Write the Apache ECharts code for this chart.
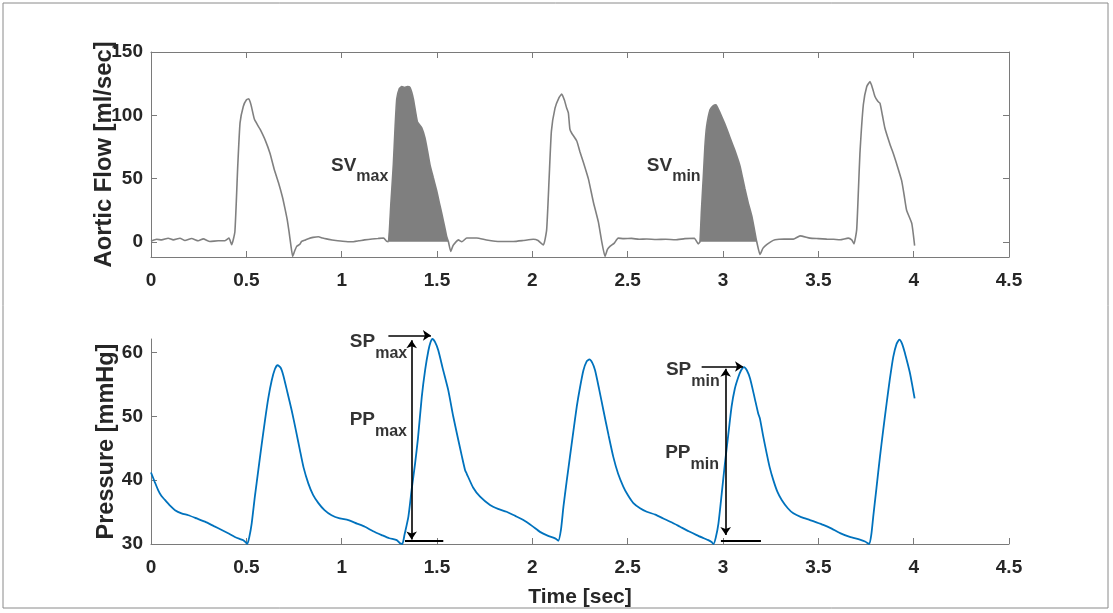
<!DOCTYPE html>
<html><head><meta charset="utf-8">
<script src="https://cdn.jsdelivr.net/npm/echarts@6/dist/echarts.min.js"></script>
<style>html,body{margin:0;padding:0;background:#fff}#c{width:1113px;height:613px}</style>
</head><body><div id="c"></div><script>
// ---------- data ----------
const flowT = [0.00,0.03,0.056,0.09,0.117,0.152,0.178,0.213,0.248,0.274,0.309,0.353,0.388,0.409,0.423,0.44,0.455,0.467,0.484,0.50,0.513,0.525,0.542,0.56,0.572,0.60,0.624,0.645,0.668,0.69,0.703,0.715,0.724,0.733,0.743,0.754,0.764,0.78,0.79,0.81,0.825,0.85,0.878,0.90,0.92,0.95,0.98,1.02,1.05,1.09,1.12,1.16,1.19,1.22,1.235,1.245,1.258,1.271,1.28,1.289,1.302,1.315,1.33,1.345,1.358,1.376,1.397,1.42,1.437,1.45,1.463,1.48,1.498,1.512,1.525,1.54,1.551,1.56,1.572,1.584,1.594,1.612,1.63,1.656,1.708,1.76,1.83,1.90,1.95,2.005,2.03,2.058,2.075,2.088,2.10,2.119,2.14,2.154,2.168,2.18,2.189,2.197,2.206,2.233,2.25,2.268,2.294,2.32,2.346,2.364,2.381,2.394,2.407,2.43,2.45,2.48,2.52,2.56,2.60,2.65,2.70,2.75,2.80,2.85,2.87,2.879,2.887,2.897,2.905,2.914,2.932,2.948,2.963,2.978,2.993,3.01,3.028,3.045,3.063,3.089,3.102,3.115,3.132,3.15,3.162,3.173,3.177,3.194,3.21,3.229,3.25,3.273,3.32,3.369,3.404,3.456,3.50,3.544,3.58,3.614,3.657,3.675,3.687,3.701,3.71,3.718,3.736,3.754,3.771,3.785,3.797,3.812,3.823,3.836,3.849,3.876,3.895,3.911,3.937,3.95,3.963,3.99,4.005];
const flowV = [0.5,2,1.5,2.8,1.5,2.8,1,2.6,0.8,2.3,0.3,0.8,0.8,2.9,-2.3,8,60,94,107,112,113,108,97,92,89,80,70,58,47,35,26,17,8,-2,-11.5,-7,-3.6,-2,0.3,1.5,2.5,3.5,4,3,2.3,1.5,0.8,0.3,0,0.8,1.5,2.2,2.6,3,0.5,0,30,61,90,113,121,122.6,122,122.6,122,113,95,90,82,72,61,51,40.6,31,22.4,12,4,0,-7.6,-3,-1,1.5,0,3,3,1.5,0.3,0.3,1,2,1,-2.5,9.4,50,87.5,105.7,114,116.7,112,105.7,101.8,89,86,79.7,71,62.7,49.7,31.5,15.9,0.2,-11.5,-6,-3.6,-1,2.9,2.5,2.7,2,2.2,1.8,2,1.6,2.5,2.8,-1.6,0,25,52,75,91,104.4,107.5,108.3,104,99,93,86,79,71.9,60,51,41.9,31,21,12,2.9,0,-10,-5,-2.3,0,1.6,2.2,2.1,4.7,2.9,2.5,2.1,2,1.6,2.9,1.5,-1.6,9.4,40,69.3,108.3,122.7,126.6,121,114.8,111,109.6,100,90,77,69,61.5,48.4,37,25,14.6,-3];
const pressT = [0.00,0.02,0.038,0.055,0.073,0.10,0.126,0.16,0.196,0.24,0.283,0.33,0.371,0.41,0.44,0.465,0.484,0.495,0.505,0.515,0.528,0.545,0.563,0.58,0.598,0.615,0.633,0.65,0.664,0.68,0.694,0.715,0.738,0.76,0.781,0.80,0.825,0.85,0.878,0.91,0.947,0.99,1.035,1.08,1.122,1.165,1.21,1.25,1.289,1.306,1.318,1.33,1.35,1.367,1.385,1.40,1.42,1.438,1.455,1.466,1.476,1.49,1.507,1.53,1.559,1.585,1.612,1.63,1.647,1.656,1.69,1.726,1.778,1.82,1.865,1.91,1.953,2.00,2.04,2.08,2.11,2.125,2.136,2.15,2.163,2.18,2.197,2.215,2.233,2.25,2.268,2.285,2.299,2.314,2.329,2.35,2.373,2.40,2.425,2.45,2.477,2.50,2.53,2.565,2.60,2.645,2.687,2.73,2.775,2.82,2.862,2.90,2.923,2.94,2.95,2.962,2.976,2.993,3.01,3.028,3.045,3.062,3.08,3.095,3.11,3.125,3.142,3.165,3.185,3.194,3.21,3.229,3.245,3.264,3.285,3.308,3.34,3.369,3.41,3.456,3.49,3.526,3.57,3.614,3.665,3.718,3.745,3.767,3.778,3.788,3.805,3.823,3.84,3.858,3.875,3.893,3.91,3.925,3.94,3.955,3.968,3.981,3.993,4.005];
const pressV = [41.2,39.7,38.4,37.5,36.9,36,35.3,34.8,34.5,34,33.5,32.8,32.2,31.6,31.1,30.8,30.6,30.3,30.0,31,33.2,37.5,41.6,45.5,49.4,52.8,55.6,57.4,58.0,57.6,56.4,53.8,50.9,47.8,44.7,42,39.5,37.7,36.4,35.3,34.5,34,33.75,33.2,32.7,32,31.4,30.9,30.6,30.1,30.0,31.5,34.3,38.5,42.6,46.5,53,57.3,60.3,61.6,62.1,61.6,60.3,57.5,54.1,50,46.25,43.8,41.6,41,38.8,37.4,36.1,35.5,35.05,34.4,33.75,32.8,31.9,31.3,31.0,30.8,30.5,32.2,35.8,39.8,43.6,47.6,51.5,54.5,57.2,58.6,58.9,58.4,57.2,54.3,50.9,47,43.6,41,39,37.7,36.4,35.6,35.05,34.6,34,33.4,32.7,32,31.4,30.9,30.6,30.3,30.0,31,33.2,37.8,42.6,47.2,51.5,54.3,56.1,57.2,57.7,57.2,55.9,53,50.4,49.6,47,44.2,42,40,38.2,36.9,35.6,34.8,34.2,33.75,33.4,33,32.4,31.7,31.1,30.7,30.4,30.0,31.5,34.3,38.8,43.6,47.8,52,55.8,59.3,61.3,62.0,61.3,59.8,58.3,56.7,54.8,52.8];
const xTickValues = [0,0.5,1,1.5,2,2.5,3,3.5,4,4.5];
const flowTickValues = [0,50,100,150];
const pressTickValues = [30,40,50,60];
const svWindows = [[1.245,1.56],[2.879,3.177]];
// annotation texts: [main, subscript, t, value]
const flowNotes = [['SV','max',1.25,60],['SV','min',2.888,60]];
const pressNotes = [['SP','max',1.349,61.6],['PP','max',1.348,49.4],['SP','min',2.988,57.2],['PP','min',2.984,44.2]];
// arrows: [t1,v1,t2,v2]
const spArrows = [[1.245,62.66,1.468,62.66],[2.888,57.8,3.105,57.8]];
const ppArrows = [[1.367,61.9,1.367,30.7],[3.014,57.45,3.014,31.4]];
const dpLines = [[1.332,30.47,1.533,30.47],[2.989,30.5,3.199,30.5]];

// ---------- chart ----------
const FONT = "'Liberation Sans', Arial, sans-serif";
const AX = '#7a7a7a';
const TXT = '#262626';
const zip = (a,b) => a.map((v,i)=>[v,b[i]]);
const flowData = zip(flowT, flowV);
const pressData = zip(pressT, pressV);
const fills = svWindows.map(w => flowData.filter(p => p[0] >= w[0]-1e-9 && p[0] <= w[1]+1e-9));

const tickLbl = {fontSize:19, fontWeight:'bold', color:TXT, fontFamily:FONT};
function xAx(grid, pos, labels){
  return {type:'value', gridIndex:grid, position:pos, min:0, max:4.5, interval:0.5,
    axisLine:{show:true, onZero:false, lineStyle:{color:AX, width:1}},
    axisTick:{show:true, inside:true, length:6, lineStyle:{color:AX}},
    axisLabel: labels ? Object.assign({show:true, margin:14}, tickLbl) : {show:false},
    splitLine:{show:false}};
}
function yAx(grid, pos, labels, min, max, ticks, name, nameSize, gap){
  return {type:'value', gridIndex:grid, position:pos, min:min, max:max,
    name: name || '', nameLocation:'middle', nameGap:gap||0, nameMoveOverlap:false,
    nameTextStyle:{fontSize:nameSize||20, fontWeight:'bold', color:TXT, fontFamily:FONT},
    axisLine:{show:true, onZero:false, lineStyle:{color:AX, width:1}},
    axisTick:{show:true, inside:true, length:6, lineStyle:{color:AX}, customValues:ticks},
    axisLabel: labels ? Object.assign({show:true, margin:8, customValues:ticks}, tickLbl) : {show:false, customValues:ticks},
    splitLine:{show:false}};
}
const rich = {
  a:{fontSize:19, fontWeight:'bold', color:'#000', fontFamily:FONT, lineHeight:20, verticalAlign:'top'},
  b:{fontSize:16, fontWeight:'bold', color:'#000', fontFamily:FONT, lineHeight:16, padding:[13,0,0,0], verticalAlign:'top'}
};
function noteSeries(notes, xi, yi){
  return {type:'scatter', xAxisIndex:xi, yAxisIndex:yi, symbolSize:0, silent:true, clip:false, z:10,
    data: notes.map(n => ({value:[n[2], n[3]], main:n[0], sub:n[1]})),
    label:{show:true, position:'left', distance:1, rich:rich,
      formatter: p => '{a|' + p.data.main + '}{b|' + p.data.sub + '}'}};
}
function arrowSeries(list, sym, width){
  return {type:'lines', coordinateSystem:'cartesian2d', xAxisIndex:2, yAxisIndex:2, polyline:false,
    silent:true, clip:false, z:8, symbol:sym, symbolSize:8,
    lineStyle:{color:'#000', width:width, opacity:1, curveness:0},
    data: list.map(a => ({coords:[[a[0],a[1]],[a[2],a[3]]]}))};
}

const option = {
  animation:false,
  backgroundColor:'#fff',
  graphic:[{type:'rect', shape:{x:3, y:3, width:1105, height:605}, style:{fill:'none', stroke:'#8a8a8a', lineWidth:1}, silent:true}],
  grid:[{left:151, width:858, top:52, height:205},
        {left:151, width:858, top:339, height:205}],
  xAxis:[xAx(0,'bottom',true), xAx(0,'top',false),
    Object.assign(xAx(1,'bottom',true), {name:'Time [sec]', nameLocation:'middle', nameGap:43,
      nameTextStyle:{fontSize:21, fontWeight:'bold', color:TXT, fontFamily:FONT}})],
  yAxis:[yAx(0,'left',true,-12,150,flowTickValues,'Aortic Flow [ml/sec]',23.8,35),
         yAx(0,'right',false,-12,150,flowTickValues),
         yAx(1,'left',true,30,62.1,pressTickValues,'Pressure [mmHg]',23.5,32)],
  series:[
    ...fills.map(d => ({type:'line', xAxisIndex:0, yAxisIndex:0, data:d, showSymbol:false, silent:true,
      lineStyle:{width:0}, areaStyle:{color:'#7f7f7f', opacity:1, origin:0}, z:1})),
    {type:'line', xAxisIndex:0, yAxisIndex:0, data:flowData, showSymbol:false, smooth:0.15, silent:true,
      lineStyle:{color:'#808080', width:1.6}, z:2},
    {type:'line', xAxisIndex:2, yAxisIndex:2, data:pressData, showSymbol:false, smooth:0.2, silent:true, clip:false,
      lineStyle:{color:'#0072BD', width:1.8}, z:2},
    arrowSeries(spArrows, ['none','arrow'], 1.6),
    arrowSeries(ppArrows, ['arrow','arrow'], 1.6),
    arrowSeries(dpLines, ['none','none'], 2),
    noteSeries(flowNotes, 0, 0),
    noteSeries(pressNotes, 2, 2)
  ]
};
const chart = echarts.init(document.getElementById('c'), null, {renderer:'canvas'});
chart.setOption(option);
</script></body></html>
